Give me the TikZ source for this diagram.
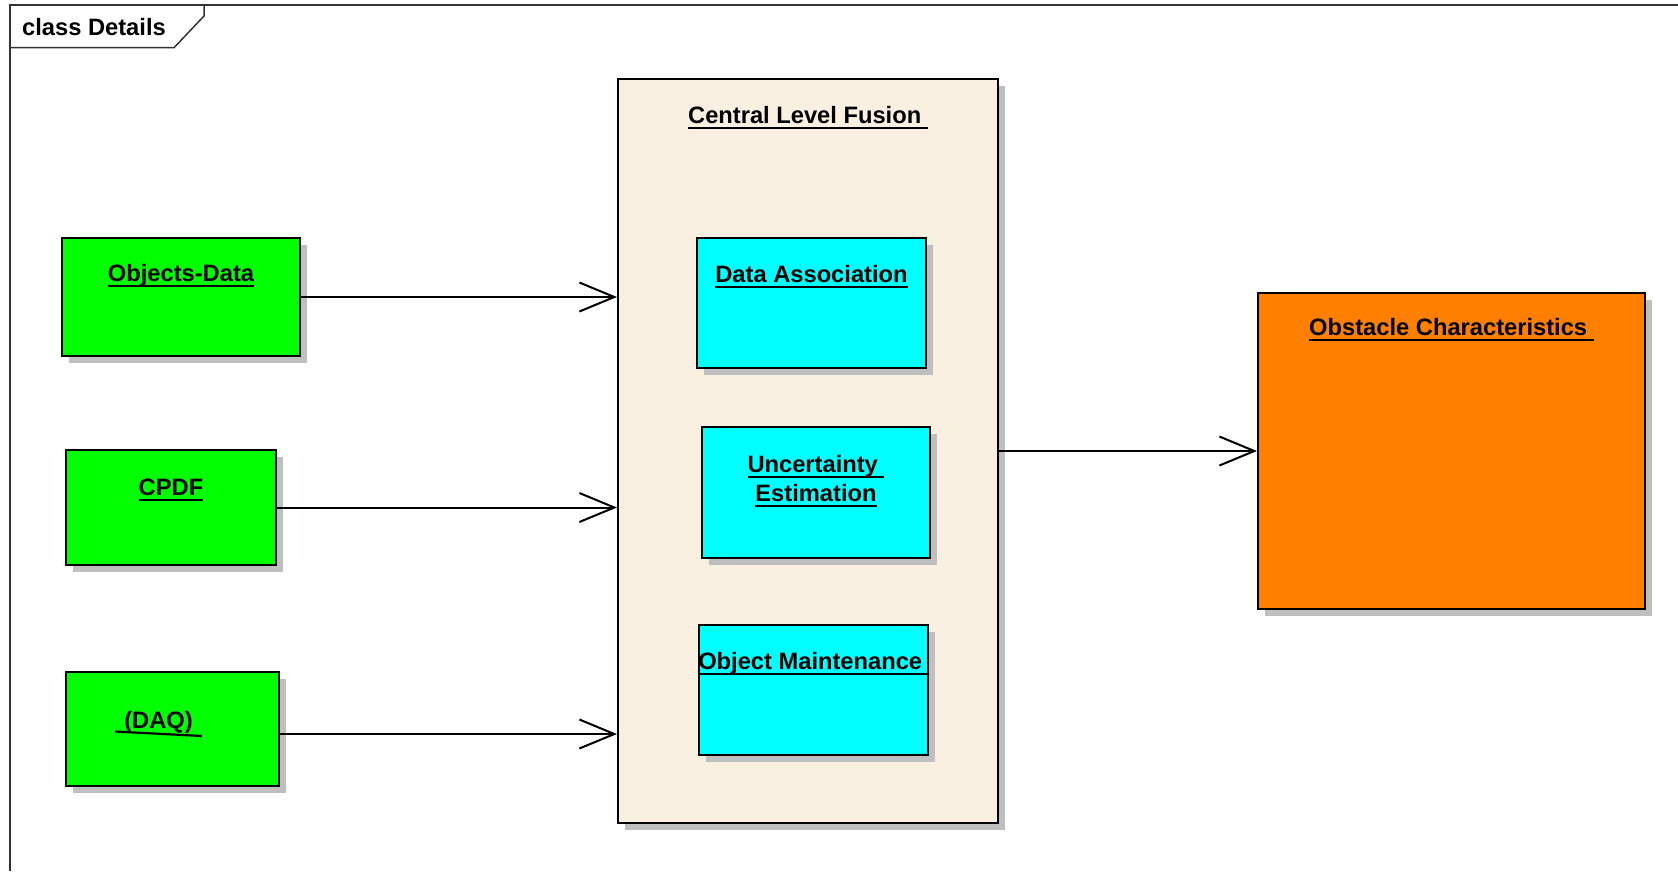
\documentclass[tikz,border=0pt]{standalone}
\usepackage{fontspec}
\setmainfont{Liberation Sans}
\usepackage{tikz}
\usetikzlibrary{arrows.meta,positioning,shadows}
\definecolor{clsgreen}{HTML}{00FF00}
\definecolor{clscyan}{HTML}{00FFFF}
\definecolor{clsorange}{HTML}{FF8000}
\definecolor{clsbeige}{HTML}{FAF0E2}
\newcommand{\ulin}[1]{\setbox0\hbox{#1}\rlap{\rule[-6pt]{\wd0}{2.4pt}}\box0}
\tikzset{
	clsbox/.style={rectangle, draw=black, line width=2pt, anchor=north west, inner sep=0pt,
		drop shadow={shadow xshift=7pt, shadow yshift=-7pt, fill=black!25, opacity=1}},
	clstitle/.style={anchor=base, inner sep=0pt, align=center, font=\fontsize{23.7}{29}\selectfont\bfseries},
	clsarr/.style={-{Straight Barb[length=35pt,width=29pt]}, line width=2pt}
}
\begin{document}
\begin{tikzpicture}[x=1pt,y=-1pt]
	\useasboundingbox (0,0) rectangle (1678,871);
	% frame
	\draw[black!80, line width=1.5pt] (10,871) -- (10,5) -- (1678,5);
	\draw[black!80, line width=1.5pt] (10,47.7) -- (174,47.7) -- (204,16) -- (204,5);
	\node[clstitle, anchor=base west] (frameT) at (22,35) {class Details};
	% inputs
	\node[clsbox, fill=clsgreen, minimum width=238pt, minimum height=118pt] (objdata) at (61,237) {};
	\node[clstitle] (objdataT) at ([yshift=-44pt]objdata.north) {\ulin{Objects-Data}};
	\node[clsbox, fill=clsgreen, minimum width=210pt, minimum height=115pt] (cpdf) at (65,449) {};
	\node[clstitle] (cpdfT) at ([yshift=-46pt]cpdf.north) {\ulin{CPDF}};
	\node[clsbox, fill=clsgreen, minimum width=213pt, minimum height=114pt] (daq) at (65,671) {};
	\node[clstitle] (daqT) at ([xshift=-14pt,yshift=-57pt]daq.north) {(DAQ)};
	\draw[line width=2.2pt] ([shift={(-9,3.5)}]daqT.base west) -- ([shift={(9,8)}]daqT.base east);
	% fusion
	\node[clsbox, fill=clsbeige, minimum width=380pt, minimum height=744pt] (fusion) at (617,78) {};
	\node[clstitle] (fusionT) at ([yshift=-45pt]fusion.north) {\ulin{Central Level Fusion\ }};
	\node[clsbox, fill=clscyan, minimum width=229pt, minimum height=130pt] (assoc) at (696,237) {};
	\node[clstitle] (assocT) at ([yshift=-45pt]assoc.north) {\ulin{Data Association}};
	\node[clsbox, fill=clscyan, minimum width=228pt, minimum height=131pt] (uncert) at (701,426) {};
	\node[clstitle] (uncertT) at ([yshift=-75pt]uncert.north) {\ulin{Uncertainty\ }\\\ulin{Estimation}};
	\node[clsbox, fill=clscyan, minimum width=229pt, minimum height=130pt] (maint) at (698,624) {};
	\node[clstitle] (maintT) at ([yshift=-45pt]maint.north) {\ulin{Object Maintenance\ }};
	% output
	\node[clsbox, fill=clsorange, minimum width=387pt, minimum height=316pt] (obst) at (1257,292) {};
	\node[clstitle] (obstT) at ([yshift=-43pt]obst.north) {\ulin{Obstacle Characteristics\ }};
	% connectors
	\draw[clsarr] (objdata.east) -- (objdata.east -| fusion.west);
	\draw[clsarr] (cpdf.east) -- (cpdf.east -| fusion.west);
	\draw[clsarr] ([yshift=-5pt]daq.east) -- ([yshift=-5pt]daq.east -| fusion.west);
	\draw[clsarr] (fusion.east) -- (obst.west);
\end{tikzpicture}
\end{document}
